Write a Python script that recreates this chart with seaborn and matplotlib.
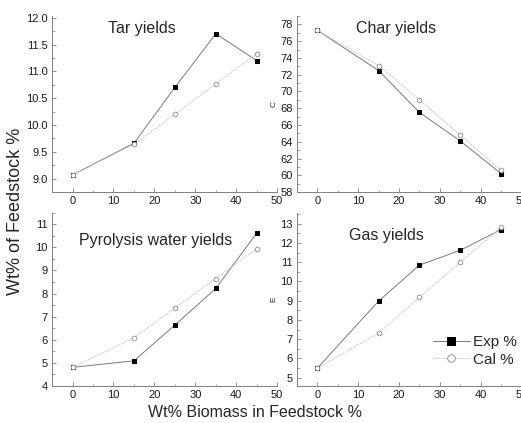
import pandas as pd
import matplotlib
matplotlib.use("Agg")
import matplotlib.pyplot as plt
import seaborn as sns
from matplotlib.ticker import MultipleLocator

# biomass share in the feedstock
biomass = [0, 15, 25, 35, 45]

tar_exp = [9.07, 9.66, 10.70, 11.70, 11.20]
tar_cal = [9.07, 9.64, 10.20, 10.77, 11.33]

char_exp = [77.3, 72.5, 67.5, 64.1, 60.2]
char_cal = [77.3, 73.1, 69.0, 64.8, 60.6]

water_exp = [4.80, 5.08, 6.63, 8.22, 10.62]
water_cal = [4.80, 6.08, 7.37, 8.65, 9.95]

gas_exp = [5.50, 8.98, 10.85, 11.62, 12.70]
gas_cal = [5.50, 7.32, 9.17, 11.00, 12.82]

sns.set_style("ticks")
plt.rcParams['font.family'] = ['Liberation Sans', 'DejaVu Sans']

fig = plt.figure(figsize=(5.21, 4.23), dpi=100)

panels = [
    # (rect, exp, cal, title, title pos, ylim, major, minor, ylabel)
    ([0.100, 0.546, 0.432, 0.416], tar_exp, tar_cal, "Tar yields", (0.40, 0.93), (8.75, 12.03), 0.5, 0.25, ""),
    ([0.570, 0.546, 0.431, 0.416], char_exp, char_cal, "Char yields", (0.44, 0.93), (58, 79), 2, 1, "C"),
    ([0.100, 0.088, 0.432, 0.409], water_exp, water_cal, "Pyrolysis water yields", (0.46, 0.84), (4, 11.5), 1, 0.5, ""),
    ([0.570, 0.088, 0.431, 0.409], gas_exp, gas_cal, "Gas yields", (0.40, 0.87), (4.58, 13.57), 1, 0.5, "E"),
]

for rect, exp, cal, title, tpos, ylim, major, minor, ylab in panels:
    ax = fig.add_axes(rect)
    df = pd.DataFrame({'x': biomass, 'Exp %': exp, 'Cal %': cal})
    sns.lineplot(data=df, x='x', y='Exp %', ax=ax, color='#7a7a7a', lw=0.7,
                 marker='s', markersize=3.2, markerfacecolor='black',
                 markeredgecolor='black', label='Exp %', legend=False)
    sns.lineplot(data=df, x='x', y='Cal %', ax=ax, color='#c4c4c4', lw=0.7,
                 linestyle=(0, (1.5, 1)), marker='o', markersize=3.4,
                 markerfacecolor='white', markeredgecolor='#8a8a8a',
                 markeredgewidth=0.6, label='Cal %', legend=False)
    ax.set_xlim(-5, 50)
    ax.set_ylim(*ylim)
    ax.xaxis.set_major_locator(MultipleLocator(10))
    ax.xaxis.set_minor_locator(MultipleLocator(5))
    ax.yaxis.set_major_locator(MultipleLocator(major))
    ax.yaxis.set_minor_locator(MultipleLocator(minor))
    if major == 0.5:
        ax.yaxis.set_major_formatter(matplotlib.ticker.FormatStrFormatter('%.1f'))
    ax.tick_params(which='major', direction='in', length=3, width=0.6,
                   color='#808080', labelsize=8, pad=3, labelcolor='#1a1a1a')
    ax.tick_params(which='minor', direction='in', length=1.8, width=0.5, color='#808080')
    for side in ['top', 'right']:
        ax.spines[side].set_visible(False)
    for side in ['left', 'bottom']:
        ax.spines[side].set_color('#808080')
        ax.spines[side].set_linewidth(0.7)
    ax.set_xlabel("")
    ax.set_ylabel(ylab, fontsize=6, labelpad=2)
    ax.text(tpos[0], tpos[1], title, transform=ax.transAxes, ha='center',
            va='center', fontsize=11.5)
    if title == "Gas yields":
        ax.legend(loc='lower right', bbox_to_anchor=(1.04, 0.03),
                  frameon=False, fontsize=11, handlelength=2.4, handletextpad=0.2,
                  labelspacing=0.25, markerscale=1.6)

fig.text(0.030, 0.50, "Wt% of Feedstock %", rotation=90, ha='center',
         va='center', fontsize=13)
fig.text(0.49, 0.025, "Wt% Biomass in Feedstock %", ha='center', va='center',
         fontsize=11.5)

fig.savefig("out.png", dpi=100)
